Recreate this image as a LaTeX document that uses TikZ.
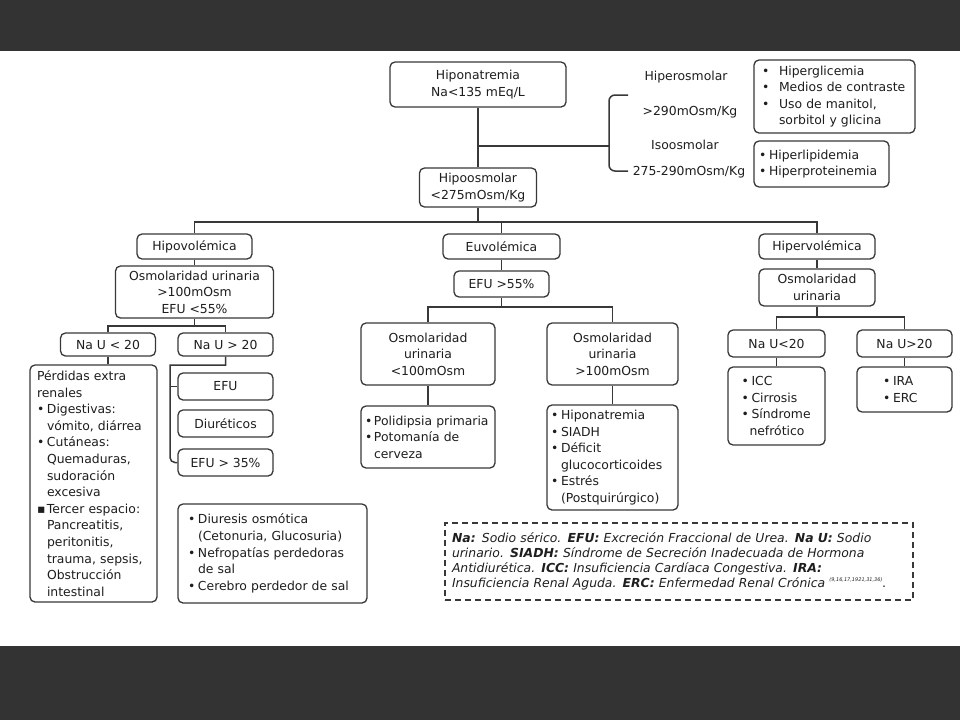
\documentclass[tikz,border=0pt]{standalone}
\usepackage{fontspec}
\setmainfont{DejaVu Sans}
\definecolor{ink}{HTML}{1E1E1E}
\definecolor{edge}{HTML}{383838}
\definecolor{band}{HTML}{333333}
\newcommand{\bul}[1]{\makebox[#1][l]{\textbullet}}
\newcommand{\ind}[1]{\hspace*{#1}}
\hyphenpenalty=10000
\exhyphenpenalty=10000
\begin{document}
\begin{tikzpicture}[
    x=1pt, y=-1pt,
    box/.style={draw=edge,line width=1.3pt,rounded corners=5pt,fill=white,text=ink,
        inner sep=0pt,align=center,font=\fontsize{12.4}{16.6}\selectfont},
    list/.style={box,align=left},
    lbl/.style={text=ink,inner sep=0pt,font=\fontsize{12.4}{16.6}\selectfont},
    link/.style={draw=edge,line width=1.5pt},
    note/.style={draw=edge,dash pattern=on 6pt off 4pt,line width=1.3pt,text=ink,
        inner sep=0pt,align=left,font=\fontsize{12.4}{15}\selectfont\itshape},
    >=latex
]
    \useasboundingbox (0,0) rectangle (960,720);
    % Bands
    \fill[band] (0,0) rectangle (960,51);
    \fill[band] (0,646) rectangle (960,720);

    % Top
    \node[box,minimum width=176,minimum height=45] (hna) at (478,84.5) {Hiponatremia\\Na<135 mEq/L};
    \node[box,minimum width=117,minimum height=39] (hipo) at (478,187.5) {Hipoosmolar\\<275mOsm/Kg};
    \node[lbl] (hiper) at (686,77) {Hiperosmolar};
    \node[lbl] (hiperv) at (690,112) {>290mOsm/Kg};
    \node[lbl] (iso) at (685,145) {Isoosmolar};
    \node[lbl] (isov) at (689,172) {275-290mOsm/Kg};
    \node[list,minimum width=161,minimum height=73,text width=145] (hgl) at (834.5,96.5)
        {\bul{17pt}Hiperglicemia\\\bul{17pt}Medios de contraste\\\bul{17pt}Uso de manitol,\\\ind{17pt}sorbitol y glicina};
    \node[list,minimum width=135,minimum height=46,text width=125] (hlp) at (821.5,164)
        {\bul{10pt}Hiperlipidemia\\\bul{10pt}Hiperproteinemia};

    % Volemia
    \node[box,minimum width=115,minimum height=25] (hvol) at (194.5,246.5) {Hipovolémica};
    \node[box,minimum width=117,minimum height=25] (euv) at (501.5,246.5) {Euvolémica};
    \node[box,minimum width=116,minimum height=25] (hper) at (817,246.5) {Hipervolémica};

    % Hipovolemica
    \node[box,minimum width=158,minimum height=52] (osmh) at (194.5,292) {Osmolaridad urinaria\\>100mOsm\\EFU <55\%};
    \node[box,minimum width=95,minimum height=23] (nal) at (108,344.5) {Na U < 20};
    \node[box,minimum width=95,minimum height=23] (nag) at (225.5,344.5) {Na U > 20};
    \node[list,minimum width=127,minimum height=237,text width=113] (perd) at (93.5,483.5)
        {Pérdidas extra\\renales\\\bul{10pt}Digestivas:\\\ind{10pt}vómito, diárrea\\\bul{10pt}Cutáneas:\\\ind{10pt}Quemaduras,\\\ind{10pt}sudoración\\\ind{10pt}excesiva\\\makebox[10pt][l]{▪}Tercer espacio:\\\ind{10pt}Pancreatitis,\\\ind{10pt}peritonitis,\\\ind{10pt}trauma, sepsis,\\\ind{10pt}Obstrucción\\\ind{10pt}intestinal};
    \node[box,minimum width=95,minimum height=27] (efu) at (225.5,386.5) {EFU};
    \node[box,minimum width=95,minimum height=27] (diur) at (225.5,423.5) {Diuréticos};
    \node[box,minimum width=95,minimum height=27] (efu35) at (225.5,462.5) {EFU > 35\%};
    \node[list,minimum width=189,minimum height=99,text width=169] (osmd) at (272.5,553.5)
        {\bul{10pt}Diuresis osmótica\\\ind{10pt}(Cetonuria, Glucosuria)\\\bul{10pt}Nefropatías perdedoras\\\ind{10pt}de sal\\\bul{10pt}Cerebro perdedor de sal};

    % Euvolemica
    \node[box,minimum width=95,minimum height=26] (efu55) at (501.5,284) {EFU >55\%};
    \node[box,minimum width=134,minimum height=62] (osma) at (428,354) {Osmolaridad\\urinaria\\<100mOsm};
    \node[box,minimum width=131,minimum height=62] (osmb) at (612.5,354) {Osmolaridad\\urinaria\\>100mOsm};
    \node[list,minimum width=134,minimum height=62,text width=126] (poli) at (428,437)
        {\bul{9pt}Polidipsia primaria\\\bul{9pt}Potomanía de\\\ind{9pt}cerveza};
    \node[list,minimum width=131,minimum height=105,text width=123] (snt) at (612.5,457.5)
        {\bul{10pt}Hiponatremia\\\bul{10pt}SIADH\\\bul{10pt}Déficit\\\ind{10pt}glucocorticoides\\\bul{10pt}Estrés\\\ind{10pt}(Postquirúrgico)};

    % Hipervolemica
    \node[box,minimum width=116,minimum height=37] (osmr) at (817,287.5) {Osmolaridad\\urinaria};
    \node[box,minimum width=97,minimum height=27] (nar) at (776.5,343.5) {Na U<20};
    \node[box,minimum width=95,minimum height=27] (nas) at (904.5,343.5) {Na U>20};
    \node[list,minimum width=97,minimum height=78,text width=70] (icc) at (776.5,406)
        {\bul{10pt}ICC\\\bul{10pt}Cirrosis\\\bul{10pt}Síndrome\\\ind{8pt}nefrótico};
    \node[list,minimum width=95,minimum height=45,text width=43] (ira) at (904.5,389.5)
        {\bul{10pt}IRA\\\bul{10pt}ERC};

    % Legend
    \node[note,minimum width=468,minimum height=77,text width=454] (leg) at (679,561.5)
        {\textbf{Na:} Sodio sérico. \textbf{EFU:} Excreción Fraccional de Urea. \textbf{Na U:} Sodio\\
         urinario. \textbf{SIADH:} Síndrome de Secreción Inadecuada de Hormona\\
         Antidiurética. \textbf{ICC:} Insuficiencia Cardíaca Congestiva. \textbf{IRA:}\\
         Insuficiencia Renal Aguda. \textbf{ERC:} Enfermedad Renal Crónica \raisebox{0.9ex}{\fontsize{5}{5}\selectfont(9,16,17,1921,31,36)}.};

    % Links top
    \coordinate (brk) at (609,146);
    \coordinate (brkt) at (628,95);
    \coordinate (brkb) at (628,171);
    \draw[link] (hna) -- (hipo);
    \draw[link] (hna.south |- brk) -- (brk);
    \draw[link,rounded corners=6pt] (brkt) -| (brk) |- (brkb);

    \coordinate (bus) at (478,222);
    \draw[link] (hipo) -- (bus);
    \draw[link] (hvol.north) |- (bus) -| (hper.north);
    \draw[link] (euv) -- (euv |- bus);

    % Links hipovolemica
    \coordinate (hbus) at (194.5,326);
    \coordinate (nbrk) at (170,365);
    \draw[link] (hvol) -- (osmh);
    \draw[link] (osmh) -- (hbus);
    \draw[link] (nal.north) |- (hbus) -| (nag.north);
    \draw[link] (nal.south) -- (nal.south |- perd.north);
    \draw[link] (nag.south) |- (nbrk) [rounded corners=5pt] |- (efu35.west);
    \draw[link] (efu.west -| nbrk) -- (efu.west);

    % Links euvolemica
    \coordinate (ebus) at (501.5,307);
    \draw[link] (euv) -- (efu55);
    \draw[link] (efu55) -- (ebus);
    \draw[link] (osma.north) |- (ebus) -| (osmb.north);
    \draw[link] (osma) -- (poli);
    \draw[link] (osmb) -- (snt);

    % Links hipervolemica
    \coordinate (rbus) at (817,317);
    \draw[link] (hper) -- (osmr);
    \draw[link] (osmr) -- (rbus);
    \draw[link] (nar.north) |- (rbus) -| (nas.north);
    \draw[link] (nar) -- (icc);
    \draw[link] (nas) -- (ira);
\end{tikzpicture}
\end{document}
